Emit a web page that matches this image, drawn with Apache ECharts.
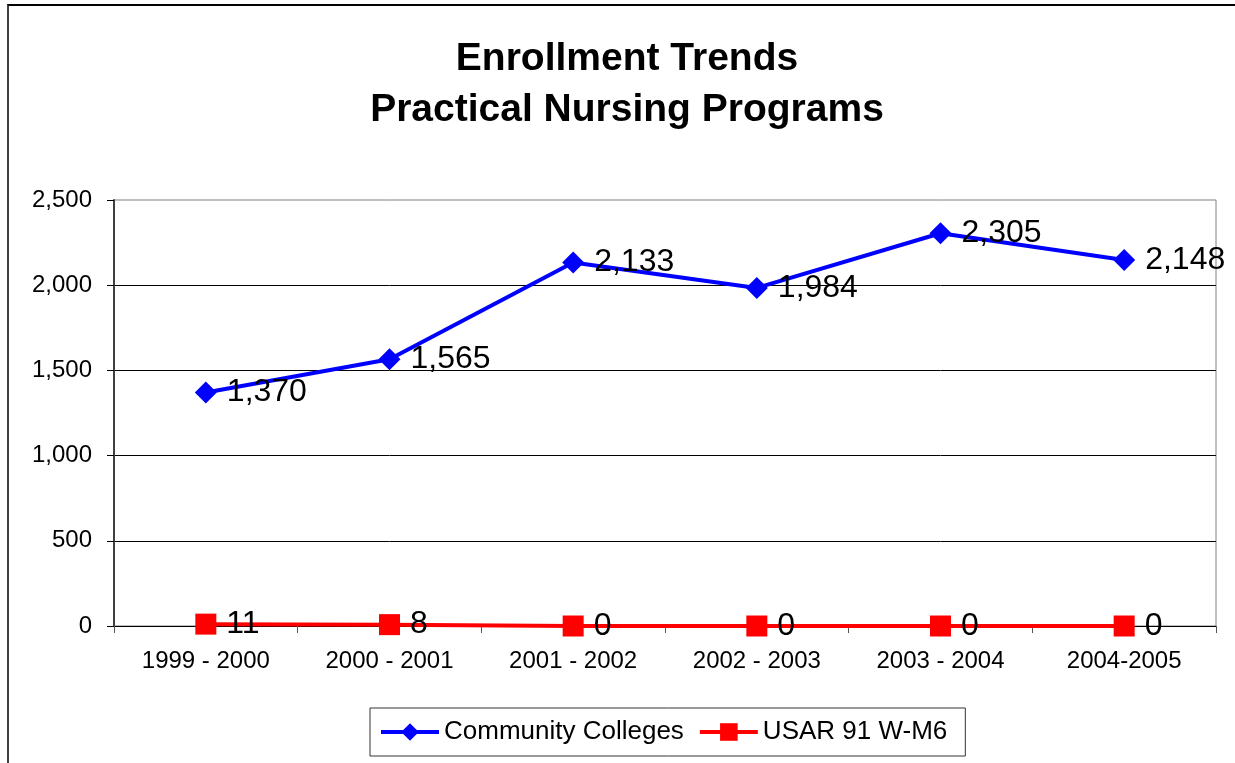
<!DOCTYPE html>
<html>
<head>
<meta charset="utf-8">
<script src="https://cdn.jsdelivr.net/npm/echarts@6/dist/echarts.min.js"></script>
<style>
    html, body { margin: 0; padding: 0; background: #fff; }
    #frame { position: absolute; left: 7px; top: 4px; width: 1228px; height: 759px;
             border-left: 2px solid #404040; border-top: 2px solid #000; }
    #chart { position: absolute; left: 0; top: 0; width: 1235px; height: 763px; }
</style>
</head>
<body>
<div id="frame"></div>
<div id="chart"></div>
<script type="text/javascript">
    var categories = ['1999 - 2000', '2000 - 2001', '2001 - 2002', '2002 - 2003', '2003 - 2004', '2004-2005'];
    var communityColleges = [1370, 1565, 2133, 1984, 2305, 2148];
    var usar = [11, 8, 0, 0, 0, 0];
    var yTicks = [0, 500, 1000, 1500, 2000, 2500];

    var font = 'Arial, "Liberation Sans", sans-serif';
    var myChart = echarts.init(document.getElementById('chart'));

    var option = {
        animation: false,
        title: {
            text: 'Enrollment Trends\nPractical Nursing Programs',
            left: 622,
            top: 29,
            textAlign: 'center',
            textStyle: { fontFamily: font, fontSize: 39, fontWeight: 'bold', color: '#000', lineHeight: 51 }
        },
        legend: {
            data: ['Community Colleges', 'USAR 91 W-M6'],
            left: 370,
            top: 708,
            padding: [11, 18, 11, 9],
            itemGap: 14,
            itemWidth: 58,
            itemHeight: 22,
            borderColor: '#333',
            borderWidth: 1,
            lineStyle: { width: 4 },
            textStyle: { fontFamily: font, fontSize: 26, color: '#000' }
        },
        grid: {
            left: 114,
            right: 19,
            top: 200,
            bottom: 137,
            show: true,
            borderColor: '#808080',
            borderWidth: 1
        },
        xAxis: {
            type: 'category',
            data: categories,
            boundaryGap: true,
            axisLine: { lineStyle: { color: '#000', width: 1 } },
            axisTick: { show: true, length: 7, lineStyle: { color: '#555' } },
            axisLabel: { fontFamily: font, fontSize: 24, color: '#000', margin: 23 }
        },
        yAxis: {
            type: 'value',
            min: 0,
            max: yTicks[yTicks.length - 1],
            interval: 500,
            axisLine: { show: true, lineStyle: { color: '#404040', width: 2 } },
            axisTick: { show: true, length: 7, lineStyle: { color: '#000' } },
            axisLabel: {
                fontFamily: font, fontSize: 24, color: '#000', margin: 22,
                formatter: function (v) { return v.toLocaleString('en-US'); }
            },
            splitLine: { showMaxLine: false, lineStyle: { color: '#000', width: 1 } }
        },
        series: [
            {
                name: 'Community Colleges',
                type: 'line',
                data: communityColleges,
                symbol: 'diamond',
                symbolSize: 22,
                itemStyle: { color: '#0000ff' },
                lineStyle: { color: '#0000ff', width: 4 },
                label: {
                    show: true, position: 'right', distance: 10,
                    fontFamily: font, fontSize: 32, color: '#000',
                    formatter: function (p) { return p.value.toLocaleString('en-US'); }
                }
            },
            {
                name: 'USAR 91 W-M6',
                type: 'line',
                data: usar,
                symbol: 'rect',
                symbolSize: 21,
                itemStyle: { color: '#ff0000' },
                lineStyle: { color: '#ff0000', width: 4 },
                label: {
                    show: true, position: 'right', distance: 10,
                    fontFamily: font, fontSize: 32, color: '#000'
                }
            }
        ]
    };

    myChart.setOption(option);
</script>
</body>
</html>
